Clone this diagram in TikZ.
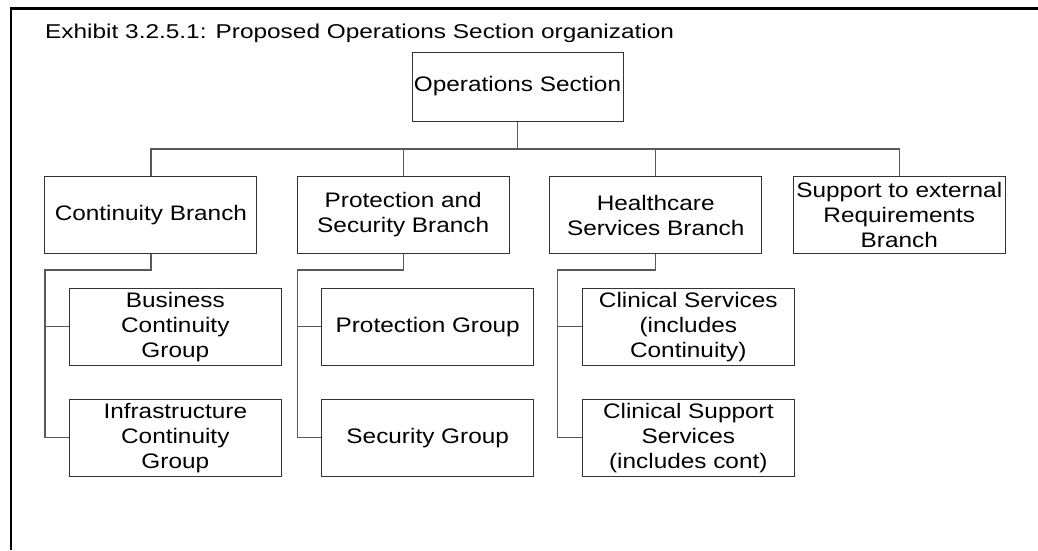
\documentclass[tikz,border=0pt]{standalone}
\usepackage{fontspec}
\setmainfont[FakeStretch=1.16]{Liberation Sans}
\newfontfamily\titlefont[FakeStretch=1.22]{Liberation Sans}
\begin{document}
\begin{tikzpicture}[x=1pt,y=-1pt,
  box/.style={draw=black!80,line width=1pt,minimum width=212pt,minimum height=77pt,
    inner sep=0pt,align=center,font=\fontsize{21}{25}\selectfont},
  conn/.style={draw=black!65,line width=1.2pt}]
\useasboundingbox (0,0) rectangle (1038,550);
% frame
\draw[line width=2.5pt] (11,550) -- (11,8.5) -- (1038,8.5);
\node[anchor=base west,inner sep=0pt,font=\titlefont\fontsize{20}{24}\selectfont] (title) at (45,38) {Exhibit 3.2.5.1: Proposed Operations Section organization};
% top
\node[box,minimum width=211pt,minimum height=69pt] (ops) at (517.5,86.5) {Operations Section};
% branches
\node[box] (cb)  at (150.9,215) {Continuity Branch};
\node[box] (psb) at (403.2,215) {Protection and\\Security Branch};
\node[box] (hsb) at (655.7,215) {Healthcare\\Services Branch};
\node[box] (seb) at (899.3,215) {Support to external\\Requirements\\Branch};
% children
\node[box] (bcg) at (175.3,326.7) {Business\\Continuity\\Group};
\node[box] (icg) at (175.3,437.7) {Infrastructure\\Continuity\\Group};
\node[box] (pg)  at (427.7,326.7) {Protection Group};
\node[box] (sg)  at (427.7,437.7) {Security Group};
\node[box] (cs)  at (688.3,326.7) {Clinical Services\\(includes\\Continuity)};
\node[box] (css) at (688.3,437.7) {Clinical Support\\Services\\(includes cont)};
% connectors to branches
\coordinate (bus) at (0,149);
\draw[conn] (ops.south) -- (ops.south |- bus);
\draw[conn] (cb.north) -- (cb.north |- bus) -- (seb.north |- bus) -- (seb.north);
\draw[conn] (psb.north) -- (psb.north |- bus);
\draw[conn] (hsb.north) -- (hsb.north |- bus);
% continuity sub-tree
\coordinate (cbj) at (45,270);
\draw[conn] (cb.south) -- (cb.south |- cbj) -- (cbj) -- (cbj |- icg.west) -- (icg.west);
\draw[conn] (cbj |- bcg.west) -- (bcg.west);
% protection sub-tree
\coordinate (psj) at (297.3,270);
\draw[conn] (psb.south) -- (psb.south |- psj) -- (psj) -- (psj |- sg.west) -- (sg.west);
\draw[conn] (psj |- pg.west) -- (pg.west);
% healthcare sub-tree
\coordinate (hsj) at (557.7,270);
\draw[conn] (hsb.south) -- (hsb.south |- hsj) -- (hsj) -- (hsj |- css.west) -- (css.west);
\draw[conn] (hsj |- cs.west) -- (cs.west);
\end{tikzpicture}
\end{document}
